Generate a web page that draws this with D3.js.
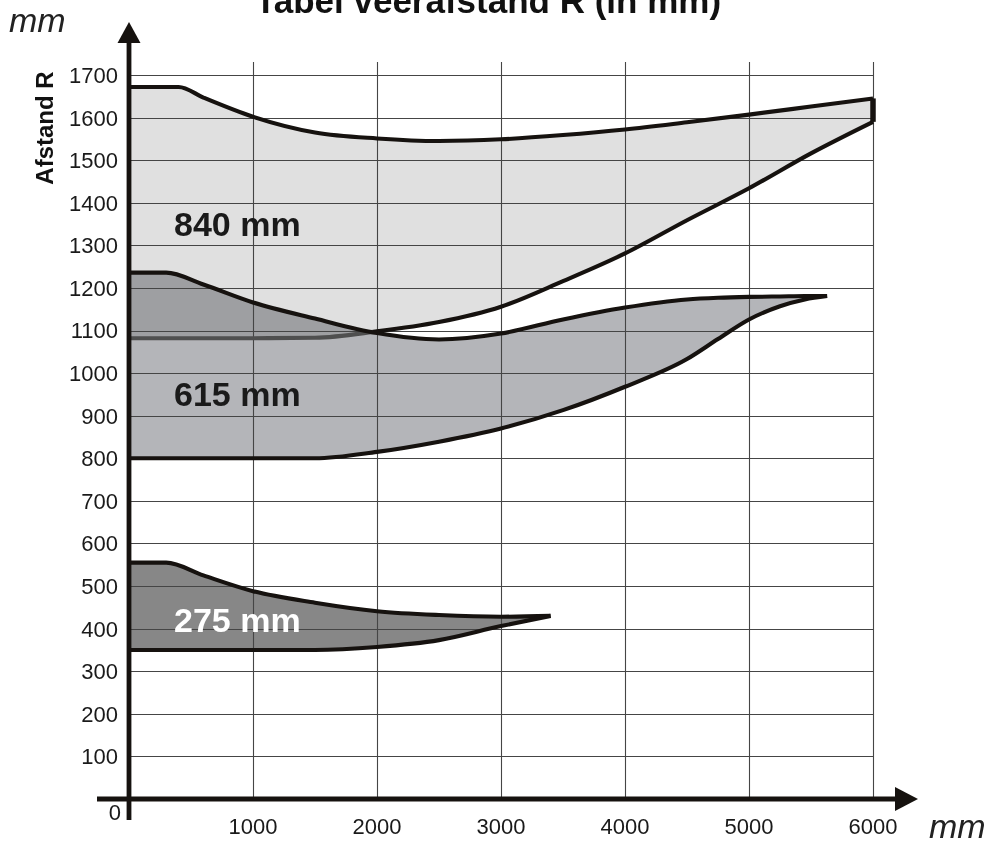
<!DOCTYPE html>
<head>
  <meta charset="utf-8">
  <script src="https://d3js.org/d3.v7.min.js"></script>
  <style>
    body {
      margin: 0;
      background: #fff;
      font-family: "Liberation Sans", Arial, sans-serif;
    }
    g.grid line {
      stroke: #454545;
      stroke-width: 1.1;
    }
    .outline {
      fill: none;
      stroke: #16120f;
      stroke-width: 4.1;
      stroke-linejoin: round;
    }
    .tick-label {
      font-size: 22px;
      fill: #1a1a1a;
    }
    .band-label {
      font-size: 34px;
      font-weight: bold;
    }
    .unit {
      font-size: 34px;
      font-style: italic;
      fill: #222;
    }
  </style>
</head>

<body>
  <div id="chart"></div>

  <script>
    // tick values
    var xTicks = [1000, 2000, 3000, 4000, 5000, 6000];
    var yTicks = [100, 200, 300, 400, 500, 600, 700, 800, 900, 1000, 1100, 1200, 1300, 1400, 1500, 1600, 1700];

    // 840 mm band
    var x840     = [0, 400, 600, 1000, 1500, 2000, 2500, 3000, 3500, 4000, 4500, 5000, 5500, 6000];
    var upper840 = [1672, 1672, 1647, 1602, 1565, 1551, 1545, 1549, 1559, 1572, 1589, 1607, 1626, 1645];
    var lower840 = [1082, 1082, 1082, 1082, 1083, 1098, 1120, 1156, 1216, 1281, 1359, 1434, 1516, 1590];

    // 615 mm band
    var x615     = [0, 300, 600, 1000, 1500, 2000, 2500, 3000, 3500, 4000, 4500, 4750, 5000, 5250, 5450, 5630];
    var upper615 = [1236, 1236, 1208, 1166, 1128, 1094, 1079, 1093, 1126, 1154, 1173, 1177, 1179, 1180, 1181, 1181];
    var lower615 = [800, 800, 800, 800, 800, 815, 839, 870, 913, 968, 1033, 1080, 1126, 1157, 1173, 1181];

    // 275 mm band
    var x275     = [0, 300, 600, 1000, 1500, 2000, 2500, 3000, 3400];
    var upper275 = [555, 555, 525, 488, 461, 441, 432, 428, 430];
    var lower275 = [350, 350, 350, 350, 350, 357, 373, 406, 430];

    var bandNames = ["840 mm", "615 mm", "275 mm"];

    var width = 998, height = 841;

    var x = d3.scaleLinear().domain([0, 6000]).range([129, 873]);
    var y = d3.scaleLinear().domain([0, 1700]).range([799, 75]);

    function zip(xs, hi, lo) {
      return xs.map(function(v, i) { return {x: v, hi: hi[i], lo: lo[i]}; });
    }

    var area = d3.area()
      .x(function(d) { return x(d.x); })
      .y0(function(d) { return y(d.lo); })
      .y1(function(d) { return y(d.hi); })
      .curve(d3.curveMonotoneX);
    var lineHi = area.lineY1();
    var lineLo = area.lineY0();

    var b840 = zip(x840, upper840, lower840),
        b615 = zip(x615, upper615, lower615),
        b275 = zip(x275, upper275, lower275);

    var svg = d3.select("#chart").append("svg")
      .attr("width", width)
      .attr("height", height);

    var defs = svg.append("defs");
    var crossX = x(1968);
    defs.append("clipPath").attr("id", "clip-left")
      .append("rect").attr("x", 0).attr("y", 0).attr("width", crossX).attr("height", height);
    defs.append("clipPath").attr("id", "clip-right")
      .append("rect").attr("x", crossX).attr("y", 0).attr("width", width - crossX).attr("height", height);

    // fills
    svg.append("path").attr("d", area(b840)).attr("fill", "#e0e0e0");
    svg.append("path").attr("d", area(b615)).attr("fill", "#b4b5b9")
      .style("mix-blend-mode", "multiply");
    svg.append("path").attr("d", area(b275)).attr("fill", "#878787");

    // grid
    var grid = svg.append("g").attr("class", "grid");
    grid.selectAll("line.h")
        .data(yTicks)
      .enter().append("line")
        .attr("class", "h")
        .attr("x1", x(0)).attr("x2", x(6000))
        .attr("y1", function(d) { return Math.round(y(d)) + 0.5; })
        .attr("y2", function(d) { return Math.round(y(d)) + 0.5; });
    grid.selectAll("line.v")
        .data(xTicks)
      .enter().append("line")
        .attr("class", "v")
        .attr("x1", function(d) { return Math.round(x(d)) + 0.5; })
        .attr("x2", function(d) { return Math.round(x(d)) + 0.5; })
        .attr("y1", 62).attr("y2", y(0));

    // 840 outline
    svg.append("path").attr("class", "outline").attr("d", lineHi(b840));
    svg.append("line").attr("class", "outline")
      .attr("x1", x(6000)).attr("x2", x(6000))
      .attr("y1", y(upper840[upper840.length - 1])).attr("y2", y(lower840[lower840.length - 1]))
      .style("stroke-width", 5.5);
    svg.append("path").attr("class", "outline").attr("d", lineLo(b840))
      .attr("clip-path", "url(#clip-right)");
    svg.append("path").attr("class", "outline").attr("d", lineLo(b840))
      .attr("clip-path", "url(#clip-left)")
      .style("stroke", "#4f4f4f");

    // 615 and 275 outlines
    [b615, b275].forEach(function(b) {
      svg.append("path").attr("class", "outline").attr("d", lineHi(b));
      svg.append("path").attr("class", "outline").attr("d", lineLo(b));
    });

    // band labels
    var labelPos = [[363, 1322, "#1a1a1a"], [363, 922, "#1a1a1a"], [363, 392, "#ffffff"]];
    svg.selectAll("text.band-label")
        .data(bandNames)
      .enter().append("text")
        .attr("class", "band-label")
        .attr("x", function(d, i) { return x(labelPos[i][0]); })
        .attr("y", function(d, i) { return y(labelPos[i][1]); })
        .attr("fill", function(d, i) { return labelPos[i][2]; })
        .text(function(d) { return d; });

    // axes
    var axisColor = "#16120f";
    svg.append("line")
      .attr("x1", x(0)).attr("x2", x(0)).attr("y1", 820).attr("y2", 40)
      .attr("stroke", axisColor).attr("stroke-width", 4.8);
    svg.append("path")
      .attr("d", "M" + x(0) + ",22L" + (x(0) - 11.5) + ",43L" + (x(0) + 11.5) + ",43Z")
      .attr("fill", axisColor);
    svg.append("line")
      .attr("x1", 97).attr("x2", 898).attr("y1", y(0)).attr("y2", y(0))
      .attr("stroke", axisColor).attr("stroke-width", 4.8);
    svg.append("path")
      .attr("d", "M918," + y(0) + "L895," + (y(0) - 12) + "L895," + (y(0) + 12) + "Z")
      .attr("fill", axisColor);

    // tick labels
    svg.selectAll("text.ylab")
        .data(yTicks)
      .enter().append("text")
        .attr("class", "tick-label")
        .attr("x", 118)
        .attr("y", function(d) { return y(d); })
        .attr("dy", "0.36em")
        .attr("text-anchor", "end")
        .text(function(d) { return d; });
    svg.selectAll("text.xlab")
        .data(xTicks)
      .enter().append("text")
        .attr("class", "tick-label")
        .attr("x", function(d) { return x(d); })
        .attr("y", 834)
        .attr("text-anchor", "middle")
        .text(function(d) { return d; });
    svg.append("text")
      .attr("class", "tick-label")
      .attr("x", 121).attr("y", 820)
      .attr("text-anchor", "end")
      .text("0");

    // titles
    svg.append("text")
      .attr("x", 488).attr("y", 13)
      .attr("text-anchor", "middle")
      .style("font-size", "35px").style("font-weight", "bold").attr("fill", "#111")
      .text("Tabel veerafstand R (in mm)");
    svg.append("text")
      .attr("transform", "translate(53,128) rotate(-90)")
      .attr("text-anchor", "middle")
      .style("font-size", "24px").style("font-weight", "bold").attr("fill", "#111")
      .text("Afstand R");
    svg.append("text").attr("class", "unit").attr("x", 9).attr("y", 32).text("mm");
    svg.append("text").attr("class", "unit").attr("x", 929).attr("y", 838).text("mm");
  </script>
</body>
